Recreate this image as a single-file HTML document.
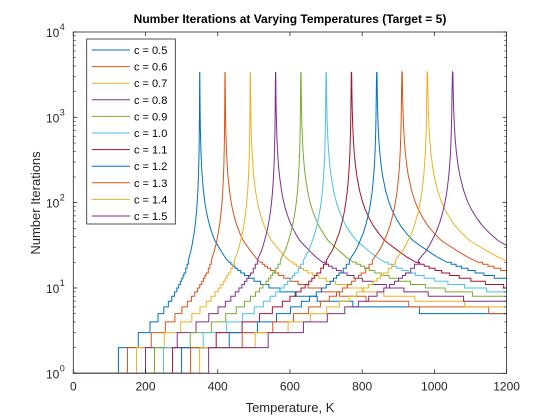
<!DOCTYPE html>
<html><head><meta charset="utf-8"><style>
body{margin:0;background:#fff;}
svg{display:block;font-family:"Liberation Sans",Arial,sans-serif;}
</style></head><body>
<svg id="chart" width="560" height="420" viewBox="0 0 560 420">
<rect width="560" height="420" fill="#fff"/>
<defs><clipPath id="pc"><rect x="73.3" y="32" width="433.3" height="341.3"/></clipPath></defs>
<rect x="73.3" y="32" width="433.3" height="341.3" fill="#fff"/>
<g id="series" clip-path="url(#pc)"></g>
<g id="axes"></g>
<text x="290" y="23" text-anchor="middle" font-size="12" font-weight="bold" fill="#000">Number Iterations at Varying Temperatures (Target = 5)</text>
<text x="290" y="412" text-anchor="middle" font-size="13" fill="#262626">Temperature, K</text>
<text x="0" y="0" transform="translate(40,203) rotate(-90)" text-anchor="middle" font-size="13" fill="#262626">Number Iterations</text>
<g id="legend"></g>
</svg>
<script>
const cValues = [0.5, 0.6, 0.7, 0.8, 0.9, 1.0, 1.1, 1.2, 1.3, 1.4, 1.5];
const cLabels = ["c = 0.5","c = 0.6","c = 0.7","c = 0.8","c = 0.9","c = 1.0","c = 1.1","c = 1.2","c = 1.3","c = 1.4","c = 1.5"];
const criticalScale = 700;
const profileR = [0,0.357,0.514,0.607,0.670,0.716,0.752,0.779,0.801,0.819,0.834,0.847,0.858,0.868,0.876,0.890,0.900,0.910,0.920,0.930,0.940,0.950,0.955,0.960,0.965,0.970,0.975,0.980,0.985,0.990,0.993,0.995,0.997,0.998,0.999,1.000,1.0012,1.002,1.003,1.005,1.0075,1.01,1.015,1.02,1.03,1.04,1.05,1.065,1.08,1.10,1.12,1.14,1.17,1.20,1.232,1.246,1.262,1.280,1.301,1.325,1.354,1.388,1.430,1.482,1.548,1.635,1.755,1.930,2.212,2.739];
const profileN = [1,2,3,4,5,6,7,8,9,10,11,12,13,14,15,17,19,21,24,27,32,39,43,49,56,66,79,99,132,199,285,399,666,999,2000,3400,3336,2003,1336,803,537,403,270,203,137,103,83,65,53,43,36,32,27,23,20,19,18,17,16,15,14,13,12,11,10,9,8,7,6,5];
const xTicks = [0,200,400,600,800,1000,1200];
const yTickExp = [0,1,2,3,4];
const colors = ["#0072BD","#D95319","#EDB120","#7E2F8E","#77AC30","#4DBEEE","#A2142F","#0072BD","#D95319","#EDB120","#7E2F8E"];

const L=73.3,R=506.6,T=32,B=373.3;
const xs=v=>L+(v-0)/(1200-0)*(R-L);
const ys=v=>B-(Math.log10(v)-0)/4*(B-T);
const NS="http://www.w3.org/2000/svg";
function mk(tag,attrs,parent){const e=document.createElementNS(NS,tag);for(const k in attrs)e.setAttribute(k,attrs[k]);parent.appendChild(e);return e;}

const sg=document.getElementById('series');
cValues.forEach((c,i)=>{
  const Tc=criticalScale*c;
  let d="M"+xs(0)+","+ys(profileN[0]);
  for(let j=1;j<profileR.length;j++){
    const t=Math.min(profileR[j]*Tc,1250);
    if(profileN[j-1]>=20 && profileN[j]>=20){
      d+=" L"+xs(t).toFixed(2)+","+ys(profileN[j]).toFixed(2);
    } else {
      d+=" H"+xs(t).toFixed(2)+" V"+ys(profileN[j]).toFixed(2);
    }
  }
  d+=" H"+xs(1250);
  const p=mk('path',{d:d,fill:'none',stroke:colors[i],'stroke-width':1},sg);
  
  
});

const ax=document.getElementById('axes');
const box=mk('rect',{x:L,y:T,width:R-L,height:B-T,fill:'none',stroke:'#262626','stroke-width':0.8},ax);


xTicks.forEach(v=>{
  const x=xs(v);
  mk('line',{x1:x,x2:x,y1:B,y2:B-4,stroke:'#262626','stroke-width':0.8},ax);
  mk('line',{x1:x,x2:x,y1:T,y2:T+4,stroke:'#262626','stroke-width':0.8},ax);
  const t=mk('text',{x:x,y:B+17,'text-anchor':'middle','font-size':12,fill:'#262626'},ax);
  t.textContent=v;
  
  
});
yTickExp.forEach(e=>{
  const y=ys(Math.pow(10,e));
  mk('line',{x1:L,x2:L+4,y1:y,y2:y,stroke:'#262626','stroke-width':0.8},ax);
  mk('line',{x1:R,x2:R-4,y1:y,y2:y,stroke:'#262626','stroke-width':0.8},ax);
  if(e<4){for(let m=2;m<10;m++){const yy=ys(m*Math.pow(10,e));
    mk('line',{x1:L,x2:L+2.5,y1:yy,y2:yy,stroke:'#262626','stroke-width':0.6},ax);
    mk('line',{x1:R,x2:R-2.5,y1:yy,y2:yy,stroke:'#262626','stroke-width':0.6},ax);}}
  const t=mk('text',{x:L-14,y:y+5,'text-anchor':'end','font-size':12,fill:'#262626'},ax);
  t.textContent='10';
  
  
  const s=mk('text',{x:L-13.5,y:y-2,'font-size':9,fill:'#262626'},ax);
  s.textContent=String(e);
  
  
});

const lg=document.getElementById('legend');
const lb=mk('rect',{x:86.7,y:39,width:88.6,height:185,fill:'#fff',stroke:'#262626','stroke-width':0.8},lg);


cLabels.forEach((lab,i)=>{
  const y=50+i*16.6;
  const ln=mk('line',{x1:91.7,x2:130,y1:y,y2:y,stroke:colors[i],'stroke-width':1},lg);
  
  
  const t=mk('text',{x:134,y:y+4,'font-size':11,fill:'#000'},lg);
  t.textContent=lab;
  
  
});
</script>
</body></html>
